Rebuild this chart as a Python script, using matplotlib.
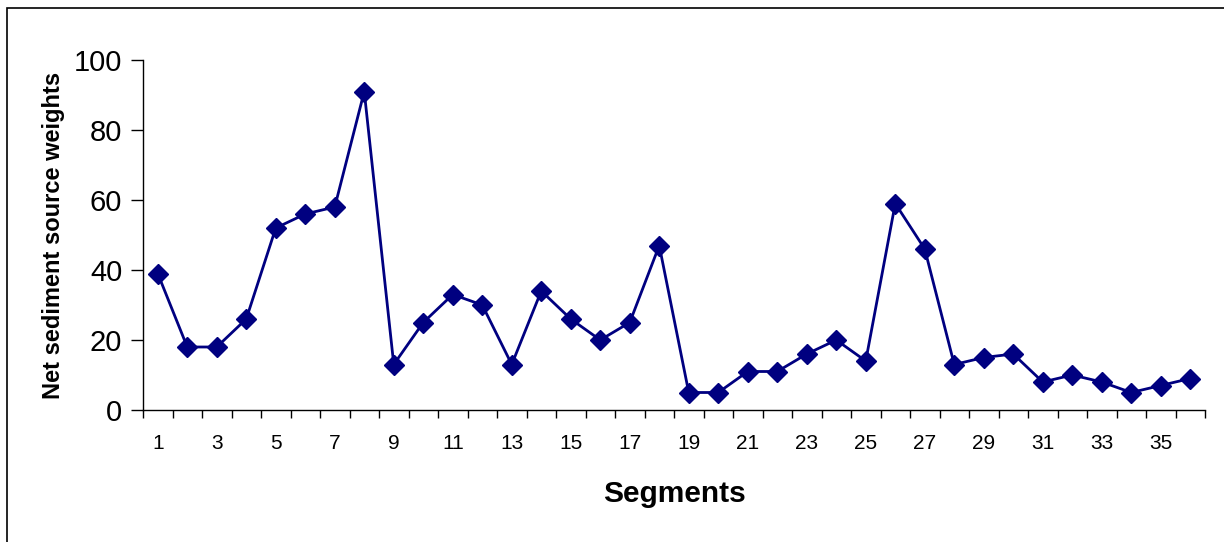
import matplotlib
matplotlib.use("Agg")
import matplotlib.pyplot as plt
from matplotlib.patches import Rectangle

plt.rcParams['font.family'] = ['Liberation Sans', 'DejaVu Sans']

# data
segments = list(range(1, 37))
weights = [39, 18, 18, 26, 52, 56, 58, 91, 13, 25, 33, 30, 13, 34, 26, 20, 25, 47,
           5, 5, 11, 11, 16, 20, 14, 59, 46, 13, 15, 16, 8, 10, 8, 5, 7, 9]
y_ticks = [0, 20, 40, 60, 80, 100]
x_labels = segments[::2]

fig = plt.figure(figsize=(12.24, 5.42), dpi=100)
ax = fig.add_axes([143 / 1224, 1 - 410 / 542, (1205 - 143) / 1224, (410 - 60) / 542])

ax.plot(segments, weights, color='#000080', linewidth=2.0, marker='D',
        markersize=10, markerfacecolor='#000080', markeredgecolor='#000080')

ax.set_xlim(0.5, len(segments) + 0.5)
ax.set_ylim(0, 100)
ax.set_yticks(y_ticks)
ax.set_xticks(x_labels)
ax.set_xticklabels([str(v) for v in x_labels])
ax.set_xticks([s - 0.5 for s in segments] + [segments[-1] + 0.5], minor=True)

ax.tick_params(axis='x', which='major', length=0, labelsize=15, pad=17)
ax.tick_params(axis='x', which='minor', length=6, width=1, direction='out')
ax.tick_params(axis='y', length=9, width=1, direction='out', labelsize=21, pad=6)

for s in ['top', 'right']:
    ax.spines[s].set_visible(False)
for s in ['left', 'bottom']:
    ax.spines[s].set_linewidth(1)

ax.set_ylabel('Net sediment source weights', fontsize=17, fontweight='bold', labelpad=6)
ax.set_xlabel('Segments', fontsize=21.5, fontweight='bold', labelpad=20)

# outer chart border
fig.patches.append(Rectangle((7 / 1224, -0.1), 1.2, 1 - 8 / 542 + 0.1,
                             transform=fig.transFigure, fill=False,
                             edgecolor='black', linewidth=1.2))

fig.savefig('out.png', dpi=100)
